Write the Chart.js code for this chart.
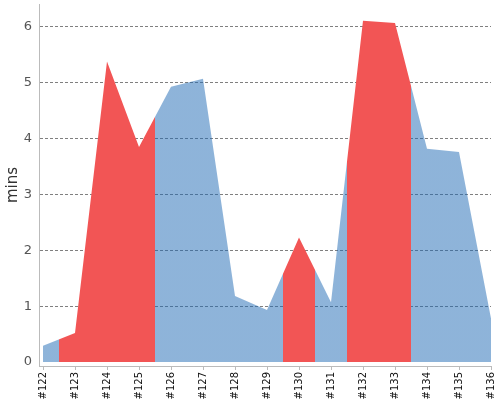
<!DOCTYPE html>
<html>
<head>
<meta charset="utf-8">
<script src="https://cdn.jsdelivr.net/npm/chart.js@4/dist/chart.umd.min.js"></script>
<style>
  html, body { margin: 0; padding: 0; background: #fff; }
  #wrap { width: 500px; height: 400px; }
</style>
</head>
<body>
<div id="wrap"><canvas id="myChart"></canvas></div>
<script>
// build ids and their values (minutes)
const ids = [122, 123, 124, 125, 126, 127, 128, 129, 130, 131, 132, 133, 134, 135, 136];
const mins = [0.29, 0.52, 5.38, 3.85, 4.93, 5.07, 1.18, 0.93, 2.23, 1.07, 6.11, 6.07, 3.82, 3.76, 0.78];
// 1 = flagged build (red), 0 = normal (blue)
const flagged = [0, 1, 1, 1, 0, 0, 0, 0, 1, 0, 1, 1, 0, 0, 0];
const yTicks = [0, 1, 2, 3, 4, 5, 6];

const red = '#f25555';
const blue = 'rgba(30, 105, 180, 0.5)';

// horizontal gradient with hard stops half way between builds
function areaColor(context) {
  const chart = context.chart;
  const area = chart.chartArea;
  const x = chart.scales.x;
  if (!area || !x) return blue;
  const g = chart.ctx.createLinearGradient(area.left, 0, area.right, 0);
  const w = area.right - area.left;
  const pos = v => Math.min(1, Math.max(0, (x.getPixelForValue(v) - area.left) / w));
  ids.forEach((id, i) => {
    const c = flagged[i] ? red : blue;
    g.addColorStop(i === 0 ? 0 : pos(id - 0.5), c);
    g.addColorStop(i === ids.length - 1 ? 1 : pos(id + 0.5), c);
  });
  return g;
}

const ctx = document.getElementById('myChart');

new Chart(ctx, {
  type: 'line',
  data: {
    datasets: [{
      label: 'mins',
      data: ids.map((id, i) => ({ x: id, y: mins[i] })),
      fill: 'origin',
      backgroundColor: areaColor,
      borderWidth: 0,
      pointRadius: 0,
      tension: 0
    }]
  },
  options: {
    responsive: true,
    maintainAspectRatio: false,
    animation: false,
    layout: { padding: { top: 4, right: 9, left: 0, bottom: 0 } },
    plugins: {
      legend: { display: false },
      tooltip: { enabled: false }
    },
    scales: {
      x: {
        type: 'linear',
        min: ids[0] - 0.125,
        max: ids[ids.length - 1],
        afterBuildTicks: axis => {
          axis.ticks = ids.map(v => ({ value: v }));
        },
        afterFit: axis => {
          axis.height = 34;
          axis.paddingLeft = 0;
          axis.paddingRight = 0;
        },
        ticks: {
          stepSize: 1,
          autoSkip: false,
          minRotation: 90,
          maxRotation: 90,
          padding: 2,
          color: '#111',
          font: { family: 'DejaVu Sans', size: 10 },
          callback: v => '#' + v
        },
        grid: {
          drawOnChartArea: false,
          drawTicks: true,
          tickLength: 4,
          color: '#bbb'
        },
        border: { color: '#bbb', width: 1 }
      },
      y: {
        min: -0.072,
        max: 6.41,
        afterBuildTicks: axis => {
          axis.ticks = yTicks.map(v => ({ value: v }));
        },
        afterFit: axis => {
          axis.width = 39;
          axis.paddingTop = 0;
          axis.paddingBottom = 0;
        },
        ticks: {
          padding: 7,
          color: '#555',
          font: { family: 'DejaVu Sans', size: 13 }
        },
        grid: {
          drawTicks: false,
          color: c => c.tick && c.tick.value === 0 ? 'rgba(0,0,0,0)' : 'rgba(0,0,0,0.5)',
          lineWidth: 1
        },
        border: { color: '#bbb', width: 1, dash: [3, 2] },
        title: {
          display: true,
          text: 'mins',
          color: '#333',
          padding: { top: 4, bottom: 0 },
          font: { family: 'DejaVu Sans', size: 15 }
        }
      }
    }
  }
});
</script>
</body>
</html>
